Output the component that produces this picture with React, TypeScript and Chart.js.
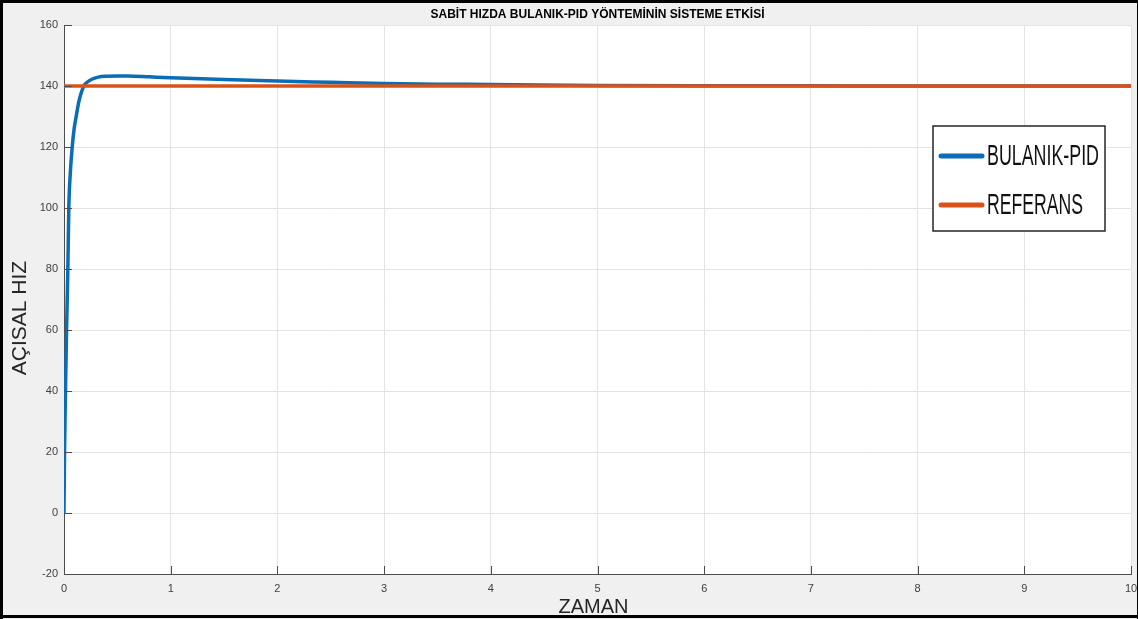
import React, { useEffect, useRef } from "react";
import { Chart, registerables } from "chart.js";

Chart.register(...registerables);

const TITLE = "SABİT HIZDA BULANIK-PID YÖNTEMİNİN SİSTEME ETKİSİ";
const X_TITLE = "ZAMAN";
const Y_TITLE = "AÇISAL HIZ";
const SERIES_NAMES = ["BULANIK-PID", "REFERANS"];
const SERIES_COLORS = ["#0a6db5", "#d95319"];

const TIME = [0, 0.005, 0.014, 0.024, 0.036, 0.045, 0.06, 0.077, 0.095, 0.114, 0.14, 0.186, 0.22, 0.26, 0.32, 0.4, 0.5, 0.6, 0.8, 1, 1.5, 2, 2.5, 3, 3.5, 4, 5, 6, 7, 8, 9, 10];
const BULANIK_PID = [0, 20, 40, 60, 80, 100, 112, 120, 126, 130, 135, 140, 141.3, 142.2, 142.9, 143.2, 143.3, 143.3, 143.0, 142.7, 142.1, 141.6, 141.2, 140.8, 140.6, 140.5, 140.2, 140.1, 140.05, 140, 140, 140];
const REF_TIME = [0, 10];
const REFERANS = [140, 140];

const X_TICKS = [0, 1, 2, 3, 4, 5, 6, 7, 8, 9, 10];
const Y_TICKS = [-20, 0, 20, 40, 60, 80, 100, 120, 140, 160];

const FONT = '"Liberation Sans", Arial, sans-serif';

const decorPlugin = {
  id: "decor",
  beforeDraw(chart: any) {
    const { ctx, chartArea: a, width, height } = chart;
    ctx.save();
    ctx.fillStyle = "#f0f0f0";
    ctx.fillRect(0, 0, width, height);
    ctx.fillStyle = "#ffffff";
    ctx.fillRect(a.left, a.top, a.right - a.left, a.bottom - a.top);
    ctx.restore();
  },
  afterDraw(chart: any) {
    const { ctx, chartArea: a, width, height } = chart;
    const xs = chart.scales.x;
    const ys = chart.scales.y;
    ctx.save();
    // inward tick marks
    ctx.strokeStyle = "#4d4d4d";
    ctx.lineWidth = 1;
    ctx.beginPath();
    for (const v of Y_TICKS) {
      const y = Math.round(ys.getPixelForValue(v)) + 0.5;
      ctx.moveTo(a.left, y);
      ctx.lineTo(a.left + 8, y);
    }
    for (const v of X_TICKS) {
      const x = Math.round(xs.getPixelForValue(v)) + 0.5;
      ctx.moveTo(x, a.bottom);
      ctx.lineTo(x, a.bottom - 8);
    }
    ctx.stroke();

    // title
    ctx.fillStyle = "#000000";
    ctx.font = `bold 12px ${FONT}`;
    ctx.textAlign = "center";
    ctx.textBaseline = "middle";
    ctx.fillText(TITLE, (a.left + a.right) / 2, 14.5);

    // x title
    ctx.fillStyle = "#262626";
    ctx.font = `20px ${FONT}`;
    ctx.textBaseline = "alphabetic";
    ctx.fillText(X_TITLE, (a.left + a.right) / 2 - 4, 613);

    // y title
    ctx.save();
    ctx.translate(26, 318);
    ctx.rotate(-Math.PI / 2);
    ctx.font = `21px ${FONT}`;
    ctx.textAlign = "center";
    ctx.textBaseline = "alphabetic";
    ctx.fillText(Y_TITLE, 0, 0);
    ctx.restore();

    // legend
    const lx = 933, ly = 126, lw = 172, lh = 105;
    ctx.fillStyle = "#ffffff";
    ctx.fillRect(lx, ly, lw, lh);
    ctx.strokeStyle = "#262626";
    ctx.lineWidth = 1.5;
    ctx.strokeRect(lx, ly, lw, lh);
    const rows = [156, 205];
    const textW = [112, 96];
    chart.data.datasets
      .slice()
      .sort((p: any, q: any) => p.legendIndex - q.legendIndex)
      .forEach((ds: any, i: number) => {
        const y = rows[i];
        ctx.strokeStyle = ds.borderColor;
        ctx.lineWidth = 5;
        ctx.lineCap = "round";
        ctx.beginPath();
        ctx.moveTo(941, y);
        ctx.lineTo(982, y);
        ctx.stroke();
        ctx.lineCap = "butt";
        ctx.fillStyle = "#111111";
        ctx.font = `29px ${FONT}`;
        ctx.textAlign = "left";
        ctx.textBaseline = "middle";
        ctx.fillText(ds.label, 987, y + 1, textW[i]);
      });

    // outer border (thick left/top/bottom, thin right)
    ctx.fillStyle = "#000000";
    ctx.fillRect(0, 0, width, 3);
    ctx.fillRect(0, 0, 3, height);
    ctx.fillRect(0, height - 4, width, 3);
    ctx.fillRect(width - 1, 0, 1, height);
    ctx.restore();
  },
};

export default function App() {
  const ref = useRef<HTMLCanvasElement | null>(null);

  useEffect(() => {
    document.body.style.margin = "0";
    const canvas = ref.current;
    if (!canvas) return;
    const chart = new Chart(canvas, {
      type: "line",
      data: {
        datasets: [
          {
            label: SERIES_NAMES[0],
            legendIndex: 0,
            data: TIME.map((t, i) => ({ x: t, y: BULANIK_PID[i] })),
            borderColor: SERIES_COLORS[0],
            borderWidth: 3.5,
            pointRadius: 0,
            cubicInterpolationMode: "monotone",
            order: 1,
          } as any,
          {
            label: SERIES_NAMES[1],
            legendIndex: 1,
            data: REF_TIME.map((t, i) => ({ x: t, y: REFERANS[i] })),
            borderColor: SERIES_COLORS[1],
            borderWidth: 3.5,
            pointRadius: 0,
            order: 0,
          } as any,
        ],
      },
      options: {
        animation: false,
        responsive: true,
        maintainAspectRatio: false,
        devicePixelRatio: 1,
        layout: { padding: { left: 0, right: 7, top: 25, bottom: 0 } },
        plugins: {
          legend: { display: false },
          title: { display: false },
          tooltip: { enabled: false },
        },
        scales: {
          x: {
            type: "linear",
            min: X_TICKS[0],
            max: X_TICKS[X_TICKS.length - 1],
            afterFit: (s: any) => {
              s.height = 45;
              s.paddingLeft = 0;
              s.paddingRight = 0;
            },
            afterBuildTicks: (s: any) => {
              s.ticks = X_TICKS.map((v) => ({ value: v }));
            },
            grid: { color: "#e3e3e3", drawTicks: false, lineWidth: 1 },
            border: { display: true, color: "#4d4d4d", width: 1 },
            ticks: {
              padding: 8,
              color: "#404040",
              font: { family: FONT, size: 11 },
              maxRotation: 0,
              autoSkip: false,
            },
          },
          y: {
            type: "linear",
            min: Y_TICKS[0],
            max: Y_TICKS[Y_TICKS.length - 1],
            afterFit: (s: any) => {
              s.width = 64;
              s.paddingTop = 0;
              s.paddingBottom = 0;
            },
            afterBuildTicks: (s: any) => {
              s.ticks = Y_TICKS.map((v) => ({ value: v }));
            },
            grid: { color: "#e3e3e3", drawTicks: false, lineWidth: 1 },
            border: { display: true, color: "#4d4d4d", width: 1 },
            ticks: {
              padding: 6,
              color: "#404040",
              font: { family: FONT, size: 11 },
              autoSkip: false,
            },
          },
        },
      } as any,
      plugins: [decorPlugin],
    });
    return () => chart.destroy();
  }, []);

  return (
    <div style={{ position: "absolute", left: 0, top: 0, width: 1138, height: 619 }}>
      <canvas ref={ref} />
    </div>
  );
}
